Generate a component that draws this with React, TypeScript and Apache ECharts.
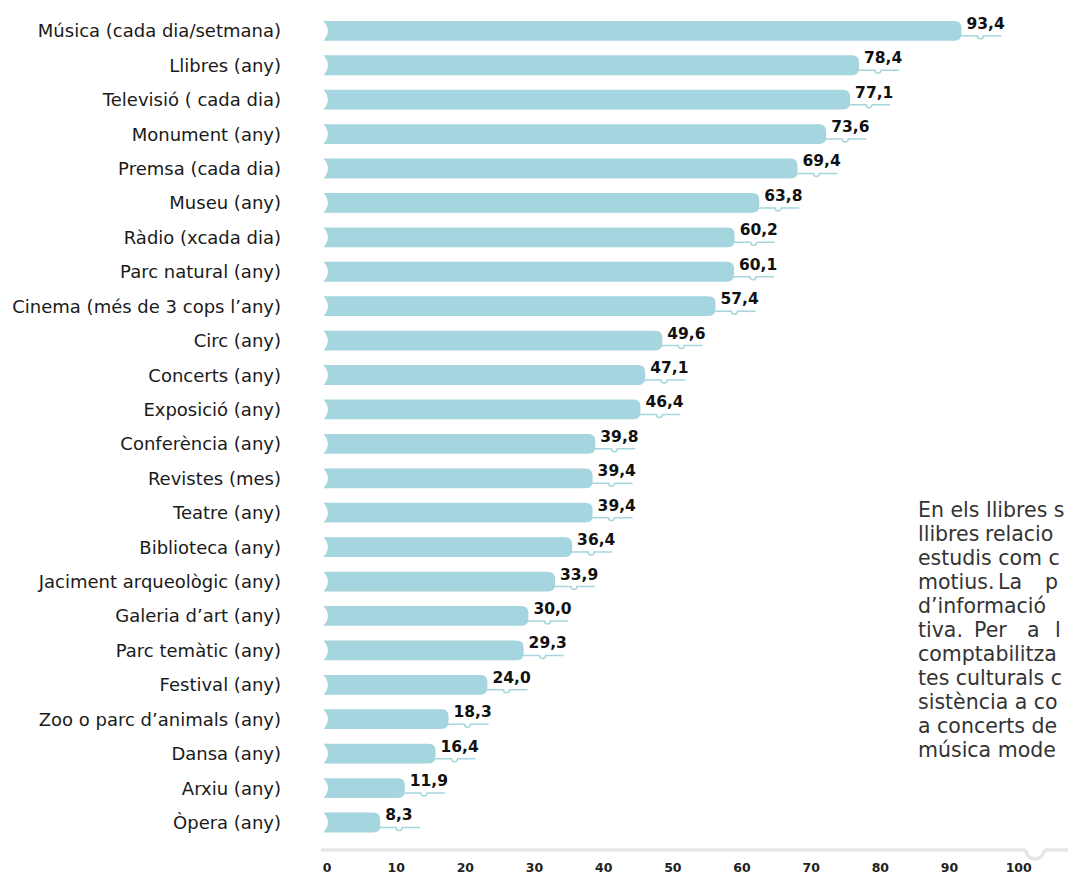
import React, { useEffect, useRef } from 'react';
import * as echarts from 'echarts';

const categories = [
  'Música (cada dia/setmana)',
  'Llibres (any)',
  'Televisió ( cada dia)',
  'Monument (any)',
  'Premsa (cada dia)',
  'Museu (any)',
  'Ràdio (xcada dia)',
  'Parc natural (any)',
  'Cinema (més de 3 cops l’any)',
  'Circ (any)',
  'Concerts (any)',
  'Exposició (any)',
  'Conferència (any)',
  'Revistes (mes)',
  'Teatre (any)',
  'Biblioteca (any)',
  'Jaciment arqueològic (any)',
  'Galeria d’art (any)',
  'Parc temàtic (any)',
  'Festival (any)',
  'Zoo o parc d’animals (any)',
  'Dansa (any)',
  'Arxiu (any)',
  'Òpera (any)',
];

const values = [
  93.4, 78.4, 77.1, 73.6, 69.4, 63.8, 60.2, 60.1, 57.4, 49.6, 47.1, 46.4,
  39.8, 39.4, 39.4, 36.4, 33.9, 30.0, 29.3, 24.0, 18.3, 16.4, 11.9, 8.3,
];

const noteLines = [
  'En els llibres s',
  'llibres relacio',
  'estudis com c',
  'motius. La p',
  'd’informació',
  'tiva. Per a l',
  'comptabilitza',
  'tes culturals c',
  'sistència a co',
  'a concerts de',
  'música mode',
];

// layout only: word x-positions of justified lines
const noteWordX: Record<number, number[]> = {
  1: [918, 985],
  3: [918, 998, 1045],
  5: [918, 974, 1027, 1055],
};

const FONT = '"DejaVu Sans", "Open Sans", sans-serif';
const BAR = '#a5d5de';
const AXIS_GRAY = '#e6e6e6';

function fmt(v: number) {
  return v.toFixed(1).replace('.', ',');
}

export default function App() {
  const ref = useRef<HTMLDivElement>(null);
  useEffect(() => {
    if (!ref.current) return;
    const chart = echarts.init(ref.current, null, { renderer: 'svg' });

    const renderItem = (params: any, api: any) => {
      const v = api.value(0);
      const idx = api.value(1);
      const end = api.coord([v, idx]);
      const start = api.coord([0, idx]);
      const band = api.size([0, 1])[1];
      const h = band * 0.575;
      const x0 = start[0];
      const x1 = end[0];
      const yc = end[1];
      const y0 = yc - h / 2;
      const y1 = yc + h / 2;
      const r = 7;
      const barPath =
        `M ${x0} ${y0} L ${x1 - r} ${y0} Q ${x1} ${y0} ${x1} ${y0 + r} ` +
        `L ${x1} ${y1 - r} Q ${x1} ${y1} ${x1 - r} ${y1} L ${x0} ${y1} ` +
        `Q ${x0 + 8.8} ${yc} ${x0} ${y0} Z`;
      const yU = yc + 5;
      const nx = x1 + 19;
      const nr = 3;
      const linePath =
        `M ${x1 - 2} ${yU} L ${nx - nr} ${yU} A ${nr} ${nr} 0 0 0 ${nx + nr} ${yU} L ${x1 + 40} ${yU}`;
      return {
        type: 'group',
        children: [
          {
            type: 'path',
            shape: { pathData: barPath },
            style: { fill: BAR },
          },
          {
            type: 'path',
            shape: { pathData: linePath },
            style: { fill: 'none', stroke: BAR, lineWidth: 1.5 },
            z2: 1,
          },
          {
            type: 'text',
            x: x1 + 5,
            y: yc - 7,
            style: {
              text: fmt(v),
              fill: '#111',
              fontSize: 15.5,
              fontWeight: 'bold',
              fontFamily: FONT,
              align: 'left',
              verticalAlign: 'middle',
            },
            z2: 2,
          },
        ],
      };
    };

    const graphic: any[] = [
      {
        type: 'line',
        shape: { x1: 321, y1: 850, x2: 1026, y2: 850 },
        style: { stroke: AXIS_GRAY, lineWidth: 3.5 },
      },
      {
        type: 'arc',
        shape: { cx: 1035, cy: 850, r: 9, startAngle: 0, endAngle: Math.PI, clockwise: true },
        style: { stroke: AXIS_GRAY, lineWidth: 3.5, fill: 'none' },
      },
      {
        type: 'line',
        shape: { x1: 1044, y1: 850, x2: 1068, y2: 850 },
        style: { stroke: AXIS_GRAY, lineWidth: 3.5 },
      },
    ];

    noteLines.forEach((line, i) => {
      const y = 510 + i * 24;
      const xs = noteWordX[i];
      const words = xs ? line.split(' ') : [line];
      words.forEach((w, k) => {
        graphic.push({
          type: 'text',
          x: xs ? xs[k] : 918,
          y,
          style: {
            text: w,
            fill: '#333',
            fontSize: 20.5,
            fontFamily: FONT,
            align: 'left',
            verticalAlign: 'middle',
          },
        });
      });
    });

    chart.setOption({
      animation: false,
      grid: [
        { left: 323.5, right: 61.5, top: 13.6, bottom: 37.3, outerBoundsMode: 'none' },
        { left: 327, right: 49.3, top: 13.6, bottom: 27, outerBoundsMode: 'none' },
      ],
      xAxis: [
        { gridIndex: 0, type: 'value', min: 0, max: 100, show: false },
        {
          gridIndex: 1,
          type: 'value',
          min: 0,
          max: 100,
          interval: 10,
          axisLine: { show: false },
          axisTick: { show: false },
          splitLine: { show: false },
          axisLabel: {
            margin: 11,
            fontSize: 12.5,
            fontWeight: 'bold',
            color: '#222',
            fontFamily: FONT,
          },
        },
      ],
      yAxis: [
        {
          gridIndex: 0,
          type: 'category',
          data: categories,
          inverse: true,
          axisLine: { show: false },
          axisTick: { show: false },
          splitLine: { show: false },
          axisLabel: {
            margin: 42.5,
            fontSize: 18,
            color: '#1a1a1a',
            fontFamily: FONT,
          },
        },
        { gridIndex: 1, type: 'value', min: 0, max: 1, show: false },
      ],
      series: [
        {
          type: 'custom',
          xAxisIndex: 0,
          yAxisIndex: 0,
          data: values.map((v, i) => [v, i]),
          encode: { x: 0, y: 1 },
          renderItem,
          clip: false,
        },
        { type: 'scatter', xAxisIndex: 1, yAxisIndex: 1, data: [] },
      ],
      graphic,
    });

    return () => chart.dispose();
  }, []);

  return (
    <div
      ref={ref}
      style={{ position: 'fixed', left: 0, top: 0, width: 1068, height: 877, background: '#fff' }}
    />
  );
}
